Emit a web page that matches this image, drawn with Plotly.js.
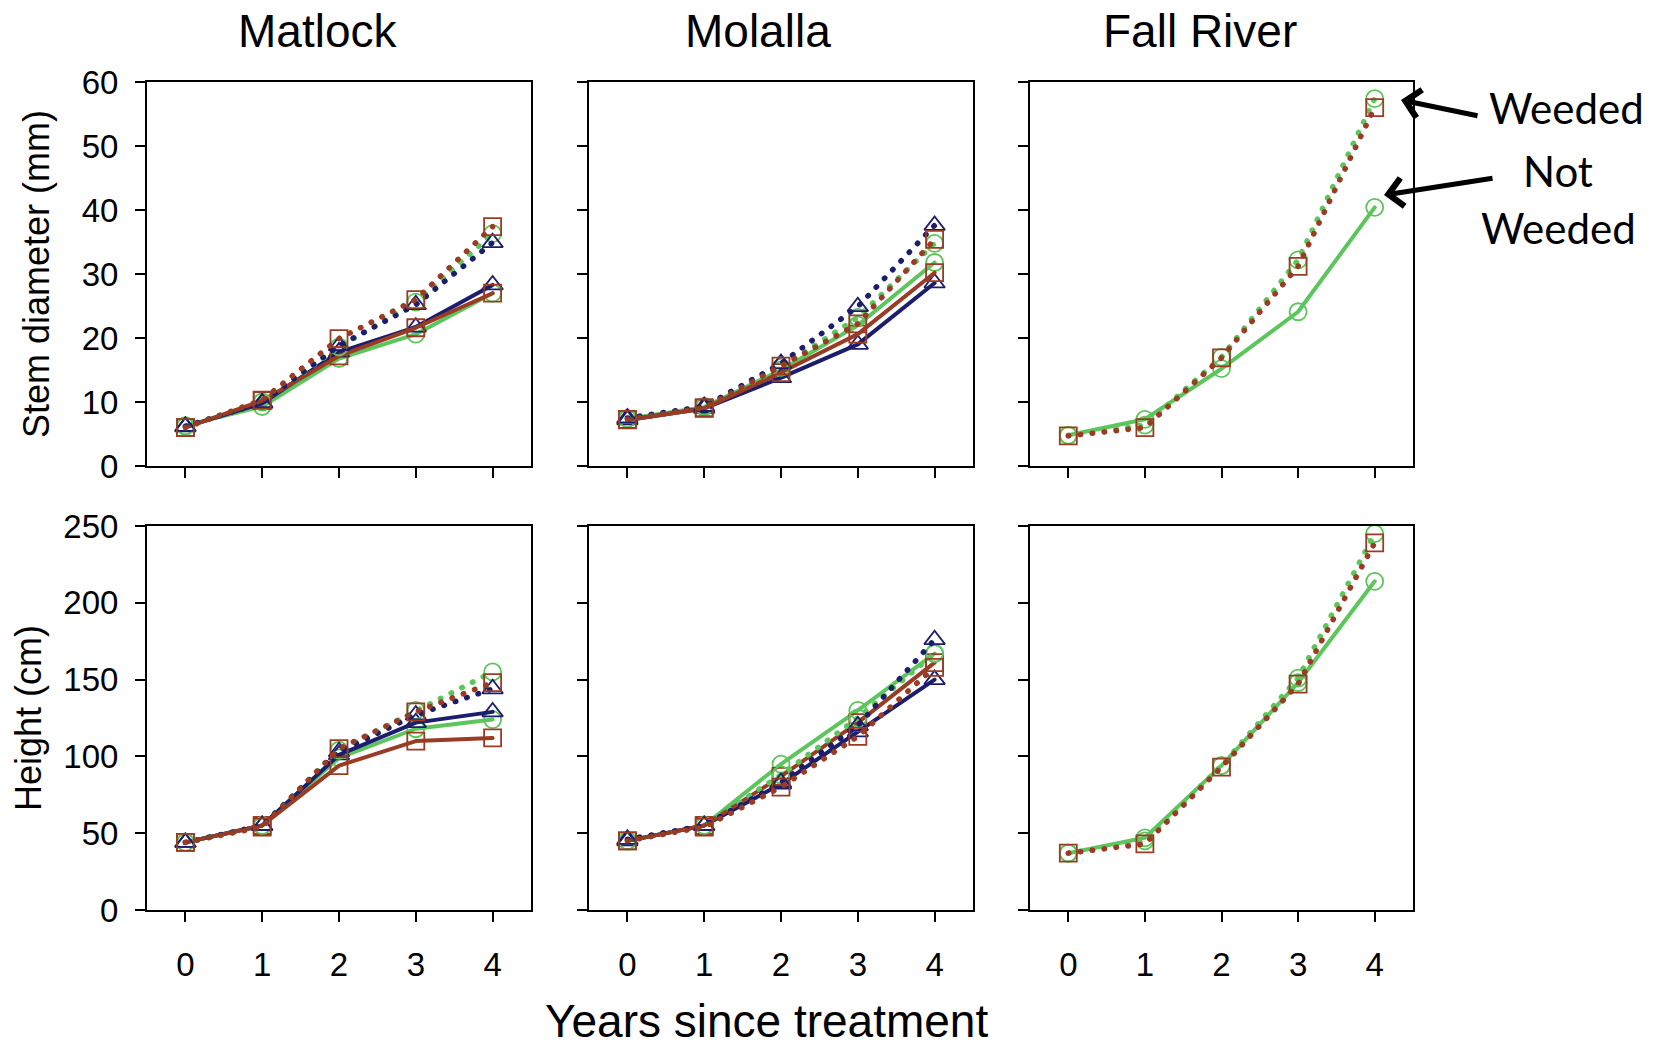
<!DOCTYPE html>
<html>
<head>
<meta charset="utf-8">
<script src="https://cdn.plot.ly/plotly-3.0.1.min.js"></script>
<style>
  html, body { margin: 0; padding: 0; background: #ffffff; }
  #chart { width: 1660px; height: 1051px; }
  /* round caps turn the short dashes of the weeded series into dots */
  .scatterlayer .js-line { stroke-linecap: round; stroke-linejoin: round; }
</style>
</head>
<body>
<div id="chart"></div>
<script>
// Years since treatment
const years = [0, 1, 2, 3, 4];

// Stem diameter (mm) — Matlock
const matlockDiamCircleWeeded   = [6.2, 10.0, 18.6, 25.6, 36.3];
const matlockDiamCircleNot      = [6.3, 9.3, 16.8, 20.6, 27.0];
const matlockDiamTriangleWeeded = [6.2, 9.9, 18.8, 25.2, 34.9];
const matlockDiamTriangleNot    = [6.1, 9.8, 17.8, 21.7, 28.3];
const matlockDiamSquareWeeded   = [6.0, 10.3, 19.9, 26.0, 37.4];
const matlockDiamSquareNot      = [6.0, 10.2, 17.2, 21.6, 27.0];

// Stem diameter (mm) — Molalla
const molallaDiamCircleWeeded   = [7.4, 9.3, 15.4, 23.2, 34.8];
const molallaDiamCircleNot      = [7.4, 9.2, 15.0, 22.0, 31.8];
const molallaDiamTriangleWeeded = [7.5, 9.3, 16.0, 24.9, 37.6];
const molallaDiamTriangleNot    = [7.2, 9.0, 13.8, 19.0, 28.6];
const molallaDiamSquareWeeded   = [7.3, 9.1, 15.6, 22.2, 35.4];
const molallaDiamSquareNot      = [7.2, 9.0, 14.6, 20.6, 30.2];

// Stem diameter (mm) — Fall River
const fallDiamCircleWeeded = [4.8, 6.4, 17.0, 32.2, 57.4];
const fallDiamCircleNot    = [4.8, 7.3, 15.2, 24.1, 40.4];
const fallDiamSquareWeeded = [4.7, 6.0, 16.9, 31.2, 56.0];

// Height (cm) — Matlock
const matlockHtCircleWeeded   = [44, 55, 104, 130, 155];
const matlockHtCircleNot      = [44, 55, 99, 118, 124];
const matlockHtTriangleWeeded = [44, 55, 103, 127, 144];
const matlockHtTriangleNot    = [44, 55, 101, 122, 129];
const matlockHtSquareWeeded   = [44, 54, 105, 129, 148];
const matlockHtSquareNot      = [44, 55, 94, 110, 112];

// Height (cm) — Molalla
const molallaHtCircleWeeded   = [45, 55, 88, 125, 167];
const molallaHtCircleNot      = [45, 55, 95, 130, 167];
const molallaHtTriangleWeeded = [46, 55, 83, 120, 176];
const molallaHtTriangleNot    = [45, 55, 82, 116, 150];
const molallaHtSquareWeeded   = [45, 54, 80, 113, 158];
const molallaHtSquareNot      = [45, 55, 87, 122, 161];

// Height (cm) — Fall River
const fallHtCircleWeeded = [37, 45, 94, 151, 245];
const fallHtCircleNot    = [37, 47, 94, 148, 214];
const fallHtSquareWeeded = [37, 43, 93, 147, 239];

// Text
const siteNames = ['Matlock', 'Molalla', 'Fall River'];
const diamTitle = 'Stem diameter (mm)';
const heightTitle = 'Height (cm)';
const xTitle = 'Years since treatment';
const weededLabel = 'Weeded';
const notWeededLabel = ['Not', 'Weeded'];

// Series styles
const styles = {
  circle:   { color: '#5cc65c', symbol: 'circle-open' },
  triangle: { color: '#1d1d6e', symbol: 'triangle-up-open' },
  square:   { color: '#9a3b24', symbol: 'square-open' }
};

function series(y, kind, weeded, axIndex) {
  const s = styles[kind];
  const suffix = axIndex === 1 ? '' : String(axIndex);
  return {
    x: years, y: y,
    xaxis: 'x' + suffix, yaxis: 'y' + suffix,
    type: 'scatter', mode: 'lines+markers',
    line: weeded
      ? { color: s.color, width: 5.5, dash: '0.5px,11.5px' }
      : { color: s.color, width: 4 },
    marker: {
      symbol: s.symbol, color: s.color,
      size: kind === 'triangle' ? 18 : 17,
      line: { color: s.color, width: 1.8 }
    },
    hoverinfo: 'skip'
  };
}

const traces = [
  // Matlock diameter
  series(matlockDiamCircleNot, 'circle', false, 1),
  series(matlockDiamTriangleNot, 'triangle', false, 1),
  series(matlockDiamSquareNot, 'square', false, 1),
  series(matlockDiamCircleWeeded, 'circle', true, 1),
  series(matlockDiamTriangleWeeded, 'triangle', true, 1),
  series(matlockDiamSquareWeeded, 'square', true, 1),
  // Molalla diameter
  series(molallaDiamCircleNot, 'circle', false, 2),
  series(molallaDiamTriangleNot, 'triangle', false, 2),
  series(molallaDiamSquareNot, 'square', false, 2),
  series(molallaDiamCircleWeeded, 'circle', true, 2),
  series(molallaDiamTriangleWeeded, 'triangle', true, 2),
  series(molallaDiamSquareWeeded, 'square', true, 2),
  // Fall River diameter
  series(fallDiamCircleNot, 'circle', false, 3),
  series(fallDiamCircleWeeded, 'circle', true, 3),
  series(fallDiamSquareWeeded, 'square', true, 3),
  // Matlock height
  series(matlockHtCircleNot, 'circle', false, 4),
  series(matlockHtTriangleNot, 'triangle', false, 4),
  series(matlockHtSquareNot, 'square', false, 4),
  series(matlockHtCircleWeeded, 'circle', true, 4),
  series(matlockHtTriangleWeeded, 'triangle', true, 4),
  series(matlockHtSquareWeeded, 'square', true, 4),
  // Molalla height
  series(molallaHtCircleNot, 'circle', false, 5),
  series(molallaHtTriangleNot, 'triangle', false, 5),
  series(molallaHtSquareNot, 'square', false, 5),
  series(molallaHtCircleWeeded, 'circle', true, 5),
  series(molallaHtTriangleWeeded, 'triangle', true, 5),
  series(molallaHtSquareWeeded, 'square', true, 5),
  // Fall River height
  series(fallHtCircleNot, 'circle', false, 6),
  series(fallHtCircleWeeded, 'circle', true, 6),
  series(fallHtSquareWeeded, 'square', true, 6)
];

// Page geometry (pixels)
const W = 1660, H = 1051;
const colsPx = [[147, 531], [589, 973], [1030, 1413]];
const rowsPx = [[82, 466], [526, 910]];
const px = v => v / W;
const py = v => 1 - v / H;

const FONT = 'Liberation Sans, Arial, Helvetica, sans-serif';
const NOTE_FONT = 'Lato, Carlito, Calibri, sans-serif';

function xAxis(col, row) {
  return {
    domain: [px(colsPx[col][0]), px(colsPx[col][1])],
    anchor: 'y' + (row * 3 + col + 1 === 1 ? '' : row * 3 + col + 1),
    range: [-0.5, 4.5],
    tickvals: years,
    showticklabels: row === 1,
    ticks: 'outside', ticklen: 10, tickwidth: 2, tickcolor: '#000',
    ticklabelstandoff: 14,
    showline: true, linecolor: '#000', linewidth: 2, mirror: true,
    showgrid: false, zeroline: false, fixedrange: true,
    tickfont: { family: FONT, size: 33, color: '#000' }
  };
}
function yAxis(col, row) {
  return {
    domain: [py(rowsPx[row][1]), py(rowsPx[row][0])],
    anchor: 'x' + (row * 3 + col + 1 === 1 ? '' : row * 3 + col + 1),
    range: row === 0 ? [0, 60] : [0, 250],
    dtick: row === 0 ? 10 : 50,
    tick0: 0,
    showticklabels: col === 0,
    ticks: 'outside', ticklen: 10, tickwidth: 2, tickcolor: '#000',
    ticklabelstandoff: 10,
    showline: true, linecolor: '#000', linewidth: 2, mirror: true,
    showgrid: false, zeroline: false, fixedrange: true,
    tickfont: { family: FONT, size: 33, color: '#000' }
  };
}

const layout = {
  width: W, height: H,
  margin: { l: 0, r: 0, t: 0, b: 0, pad: 0 },
  paper_bgcolor: '#ffffff', plot_bgcolor: '#ffffff',
  showlegend: false,
  font: { family: FONT, color: '#000' },
  annotations: []
};

for (let row = 0; row < 2; row++) {
  for (let col = 0; col < 3; col++) {
    const n = row * 3 + col + 1;
    const key = n === 1 ? '' : String(n);
    layout['xaxis' + key] = xAxis(col, row);
    layout['yaxis' + key] = yAxis(col, row);
  }
}

// Site titles above each column
const titleCenters = [317, 758, 1200];
siteNames.forEach((name, i) => {
  layout.annotations.push({
    text: name, xref: 'paper', yref: 'paper',
    x: px(titleCenters[i]), y: py(31), xanchor: 'center', yanchor: 'middle',
    showarrow: false, font: { family: FONT, size: 46, color: '#000' }
  });
});

// Axis titles
layout.annotations.push(
  { text: diamTitle, xref: 'paper', yref: 'paper', x: px(36), y: py(274),
    xanchor: 'center', yanchor: 'middle', textangle: -90, showarrow: false,
    font: { family: FONT, size: 36, color: '#000' } },
  { text: heightTitle, xref: 'paper', yref: 'paper', x: px(28), y: py(718),
    xanchor: 'center', yanchor: 'middle', textangle: -90, showarrow: false,
    font: { family: FONT, size: 36, color: '#000' } },
  { text: xTitle, xref: 'paper', yref: 'paper', x: px(766), y: py(1021),
    xanchor: 'center', yanchor: 'middle', showarrow: false,
    font: { family: FONT, size: 46, color: '#000' } }
);

// Treatment labels with arrows
layout.annotations.push(
  { text: weededLabel, xref: 'paper', yref: 'paper', x: px(1566), y: py(108),
    xanchor: 'center', yanchor: 'middle', showarrow: false,
    font: { family: NOTE_FONT, size: 42, color: '#000' } },
  { text: notWeededLabel[0], xref: 'paper', yref: 'paper', x: px(1558), y: py(171),
    xanchor: 'center', yanchor: 'middle', showarrow: false,
    font: { family: NOTE_FONT, size: 42, color: '#000' } },
  { text: notWeededLabel[1], xref: 'paper', yref: 'paper', x: px(1558), y: py(228),
    xanchor: 'center', yanchor: 'middle', showarrow: false,
    font: { family: NOTE_FONT, size: 42, color: '#000' } },
  { text: '', xref: 'paper', yref: 'paper', x: px(1401), y: py(100),
    ax: 78, ay: 16, showarrow: true, arrowhead: 4, arrowsize: 1.1,
    arrowwidth: 5, arrowcolor: '#000', standoff: 0 },
  { text: '', xref: 'paper', yref: 'paper', x: px(1384), y: py(195),
    ax: 110, ay: -17, showarrow: true, arrowhead: 4, arrowsize: 1.1,
    arrowwidth: 5, arrowcolor: '#000', standoff: 0 }
);

Plotly.newPlot('chart', traces, layout, { displayModeBar: false, staticPlot: true });
</script>
</body>
</html>
